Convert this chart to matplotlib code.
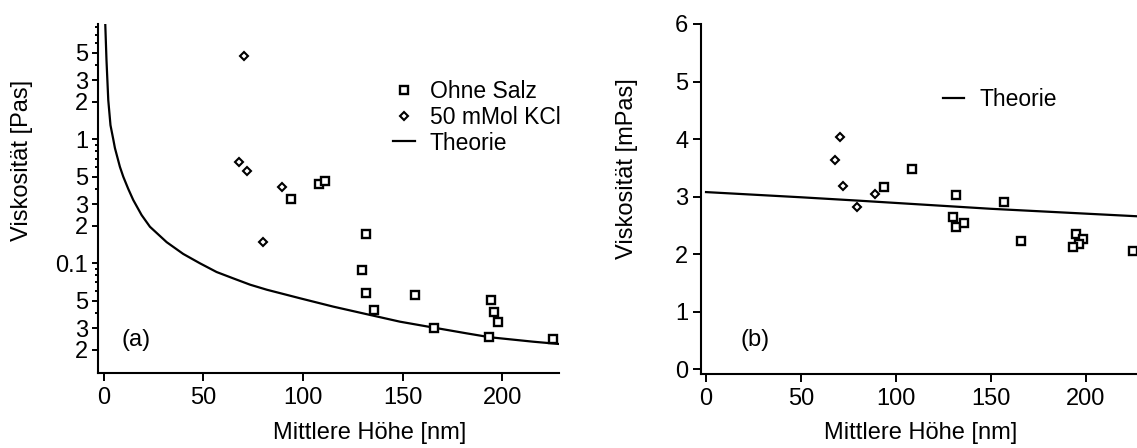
import numpy as np
import matplotlib
matplotlib.use("Agg")
import matplotlib.pyplot as plt
from matplotlib.ticker import FixedLocator, FixedFormatter

plt.rcParams["font.family"] = ["Liberation Sans", "DejaVu Sans"]

# (a) viscosity in Pas vs. mean height in nm
salt_free_h = [93.8, 108.2, 111.0, 131.5, 129.8, 131.5, 135.8, 156.3, 165.8,
               194.6, 196.1, 198.0, 193.6, 225.4]
salt_free_eta = [0.33, 0.44, 0.46, 0.171, 0.088, 0.058, 0.042, 0.0555, 0.0303,
                 0.0503, 0.0407, 0.0334, 0.0256, 0.0244]
kcl_h = [70.5, 67.8, 71.8, 89.3, 79.7]
kcl_eta = [4.7, 0.65, 0.55, 0.415, 0.148]
theory_a_h = [0.65, 1.26, 2.16, 3.27, 4.67, 5.5, 8.0, 9.7, 12.2, 14.7, 18.9,
              23.1, 31.5, 39.8, 48.2, 56.6, 65.0, 73.4, 81.8, 98.5, 115.2,
              133.7, 148.7, 165.5, 182.3, 194.0, 215.7, 229.1]
theory_a_eta = [8.5, 4.36, 2.07, 1.30, 1.0, 0.85, 0.60, 0.499, 0.398, 0.324,
                0.245, 0.197, 0.148, 0.119, 0.100, 0.085, 0.0755, 0.0672,
                0.0612, 0.0522, 0.0447, 0.0383, 0.0338, 0.0303, 0.0272, 0.0253,
                0.0233, 0.0223]

# (b) viscosity in mPas vs. mean height in nm
salt_free_h_b = [93.6, 108.4, 131.6, 130.2, 131.6, 135.8, 156.7, 166.1,
                 194.9, 198.3, 196.2, 193.5, 225.1]
salt_free_eta_b = [3.16, 3.48, 3.03, 2.65, 2.47, 2.54, 2.91, 2.23,
                   2.36, 2.27, 2.18, 2.13, 2.06]
kcl_h_b = [70.4, 68.1, 72.2, 79.6, 89.0]
kcl_eta_b = [4.03, 3.63, 3.18, 2.82, 3.04]
theory_b_h = [0.0, 50.0, 81.0, 150.0, 227.0]
theory_b_eta = [3.08, 2.99, 2.93, 2.79, 2.66]

log_tick_vals = [0.02, 0.03, 0.05, 0.1, 0.2, 0.3, 0.5, 1, 2, 3, 5]
log_tick_text = ["2", "3", "5", "0.1", "2", "3", "5", "1", "2", "3", "5"]

W, H = 1137, 448
FS = 17
fig = plt.figure(figsize=(W / 100, H / 100), dpi=100)


def px(x, y):
    return x / W, 1 - y / H


ax_a = fig.add_axes([98 / W, 1 - 373 / H, 461 / W, 349 / H])
ax_b = fig.add_axes([700.7 / W, 1 - 374 / H, 436.3 / W, 350 / H])

sq = dict(marker="s", ms=6.4, mfc="white", mec="black", mew=1.7, ls="none")
dm = dict(marker="D", ms=3.6, mfc="white", mec="black", mew=1.5, ls="none")
leg = dict(frameon=False, fontsize=FS - 0.5, handlelength=0.95,
           handletextpad=0.65, borderpad=0, borderaxespad=0)

for ax in (ax_a, ax_b):
    for side in ("top", "right"):
        ax.spines[side].set_visible(False)
    for side in ("left", "bottom"):
        ax.spines[side].set_linewidth(1.5)
    ax.tick_params(which="both", direction="out", width=1.4, labelsize=FS,
                   colors="black")
    ax.tick_params(axis="x", which="major", length=6, pad=4)
    ax.xaxis.set_major_locator(FixedLocator([0, 50, 100, 150, 200]))

# panel (a)
ax_a.plot(theory_a_h, theory_a_eta, color="black", lw=1.6, label="Theorie",
          solid_joinstyle="round", zorder=2)
ax_a.plot(salt_free_h, salt_free_eta, label="Ohne Salz", **sq)
ax_a.plot(kcl_h, kcl_eta, label="50 mMol KCl", **dm)
ax_a.set_yscale("log")
ax_a.set_xlim(-3, 228.6)
ax_a.set_ylim(10 ** -1.885, 10 ** 0.93)
ax_a.yaxis.set_major_locator(FixedLocator(log_tick_vals))
ax_a.yaxis.set_major_formatter(FixedFormatter(log_tick_text))
minor_vals = [m * d for d in (0.01, 0.1, 1) for m in range(2, 10)]
ax_a.yaxis.set_minor_locator(FixedLocator(minor_vals))
ax_a.yaxis.set_minor_formatter(FixedFormatter([""] * len(minor_vals)))
ax_a.tick_params(axis="y", which="major", length=4, pad=3)
ax_a.tick_params(axis="y", which="minor", length=2.5)

handles, labels = ax_a.get_legend_handles_labels()
order = [1, 2, 0]
ax_a.legend([handles[i] for i in order], [labels[i] for i in order],
            loc="upper left", bbox_to_anchor=px(393, 80),
            bbox_transform=fig.transFigure, labelspacing=0.12, **leg)

# panel (b)
ax_b.plot(theory_b_h, theory_b_eta, color="black", lw=1.6, label="Theorie",
          zorder=2)
ax_b.plot(salt_free_h_b, salt_free_eta_b, **sq)
ax_b.plot(kcl_h_b, kcl_eta_b, **dm)
ax_b.set_xlim(-2.8, 227)
ax_b.set_ylim(-0.08, 6)
ax_b.yaxis.set_major_locator(FixedLocator([0, 1, 2, 3, 4, 5, 6]))
ax_b.tick_params(axis="y", which="major", length=6, pad=3)
ax_b.legend(loc="upper left", bbox_to_anchor=px(942.5, 88),
            bbox_transform=fig.transFigure, **leg)

# axis titles and panel letters
fig.text(*px(22, 160), "Viskosität [Pas]", rotation=90, ha="center",
         va="center", fontsize=FS)
fig.text(*px(627, 169), "Viskosität [mPas]", rotation=90, ha="center",
         va="center", fontsize=FS)
fig.text(*px(370, 433), "Mittlere Höhe [nm]", ha="center", va="center",
         fontsize=FS)
fig.text(*px(921, 433), "Mittlere Höhe [nm]", ha="center", va="center",
         fontsize=FS)
fig.text(*px(136, 340), "(a)", ha="center", va="center", fontsize=FS)
fig.text(*px(755, 340), "(b)", ha="center", va="center", fontsize=FS)

fig.savefig("out.png", dpi=100)
